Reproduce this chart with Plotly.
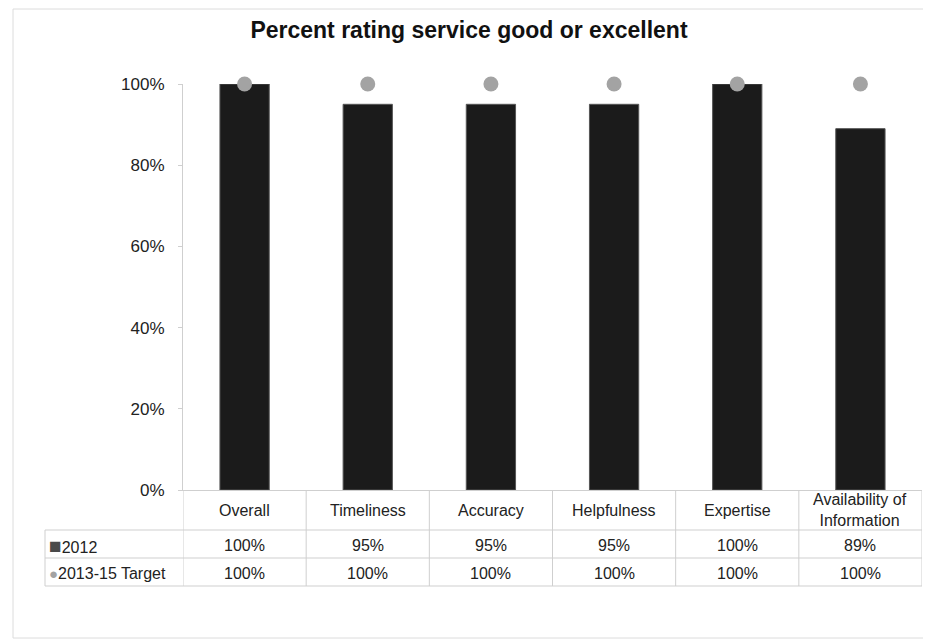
import plotly.graph_objects as go

categories = ["Overall", "Timeliness", "Accuracy", "Helpfulness", "Expertise",
              "Availability of<br>Information"]
values_2012 = [1.00, 0.95, 0.95, 0.95, 1.00, 0.89]
values_target = [1.00, 1.00, 1.00, 1.00, 1.00, 1.00]
series_names = ["2012", "2013-15 Target"]
y_ticks = [0, 0.2, 0.4, 0.6, 0.8, 1.0]
y_tick_labels = ["0%", "20%", "40%", "60%", "80%", "100%"]

FONT = "Liberation Sans, Arial, sans-serif"
GRID = "#cfcfcf"
xs = list(range(len(categories)))

OFF = 8  # page body margin
FW, FH = 931 - OFF, 643 - OFF
# plot-area pixel geometry (in reference screenshot pixels)
PT, PB, PL, PR = 84, 490, 183, 922
H = PB - PT
W = PR - PL
def py(p):
    return (PB - p) / H
def px(p):
    return (p - PL) / W

fig = go.Figure()
fig.add_trace(go.Bar(x=xs, y=values_2012, name=series_names[0], width=0.4,
                     marker=dict(color="#1b1b1b", line=dict(color="#555", width=1)),
                     showlegend=False))
fig.add_trace(go.Scatter(x=xs, y=values_target, name=series_names[1], mode="markers",
                         cliponaxis=False,
                         marker=dict(color="#a3a3a3", size=15), showlegend=False))

shapes = []
# outer chart border
shapes.append(dict(type="rect", xref="paper", yref="paper", x0=px(13), x1=px(924),
                   y0=py(638), y1=py(9), line=dict(color="#dcdcdc", width=1)))
# table vertical lines at category boundaries
for i in range(len(categories) + 1):
    shapes.append(dict(type="line", xref="x", yref="paper", x0=i - 0.5, x1=i - 0.5,
                       y0=0, y1=py(586), line=dict(color=GRID, width=1)))
# table horizontal lines
for yy in [530, 558, 586]:
    shapes.append(dict(type="line", xref="paper", yref="paper", x0=px(45), x1=1,
                       y0=py(yy), y1=py(yy), line=dict(color=GRID, width=1)))
shapes.append(dict(type="line", xref="paper", yref="paper", x0=px(45), x1=px(45),
                   y0=py(530), y1=py(586), line=dict(color=GRID, width=1)))

annotations = []
txt_font = dict(family=FONT, size=16, color="#222")
for i, c in enumerate(categories):
    annotations.append(dict(x=i, y=py(510), xref="x", yref="paper", text=c,
                            showarrow=False, font=txt_font, xanchor="center",
                            yanchor="middle"))
    annotations.append(dict(x=i, y=py(545), xref="x", yref="paper",
                            text=f"{round(values_2012[i] * 100)}%", showarrow=False,
                            font=txt_font, xanchor="center", yanchor="middle"))
    annotations.append(dict(x=i, y=py(573), xref="x", yref="paper",
                            text=f"{round(values_target[i] * 100)}%", showarrow=False,
                            font=txt_font, xanchor="center", yanchor="middle"))
annotations.append(dict(x=px(47), y=py(545), xref="paper", yref="paper",
                        text="<span style='color:#4a4a4a;font-size:21px'>■</span>" + series_names[0],
                        showarrow=False, font=txt_font, xanchor="left", yanchor="middle"))
annotations.append(dict(x=px(47), y=py(573), xref="paper", yref="paper",
                        text="<span style='color:#a3a3a3;font-size:15px'>●</span>" + series_names[1],
                        showarrow=False, font=txt_font, xanchor="left", yanchor="middle"))

fig.update_layout(
    width=FW, height=FH,
    margin=dict(l=PL - OFF, r=931 - PR, t=PT - OFF, b=643 - PB, pad=0),
    paper_bgcolor="white", plot_bgcolor="white",
    title=dict(text="<b>Percent rating service good or excellent</b>", x=(469 - OFF) / FW,
               xanchor="center", y=1 - (30 - OFF) / FH, yanchor="middle", xref="container",
               yref="container",
               font=dict(family=FONT, size=23, color="#111")),
    font=dict(family=FONT, color="#222"),
    xaxis=dict(range=[-0.5, len(categories) - 0.5], showticklabels=False, showgrid=False,
               zeroline=False, showline=True, linecolor=GRID, ticks=""),
    yaxis=dict(range=[0, 1.0], tickvals=y_ticks, ticktext=y_tick_labels, showgrid=False,
               zeroline=False, showline=True, linecolor=GRID, ticks="outside", ticklen=4,
               tickcolor=GRID, ticklabelstandoff=10,
               tickfont=dict(family=FONT, size=17, color="#222")),
    shapes=shapes,
    annotations=annotations,
)

fig.write_html("out.html")
